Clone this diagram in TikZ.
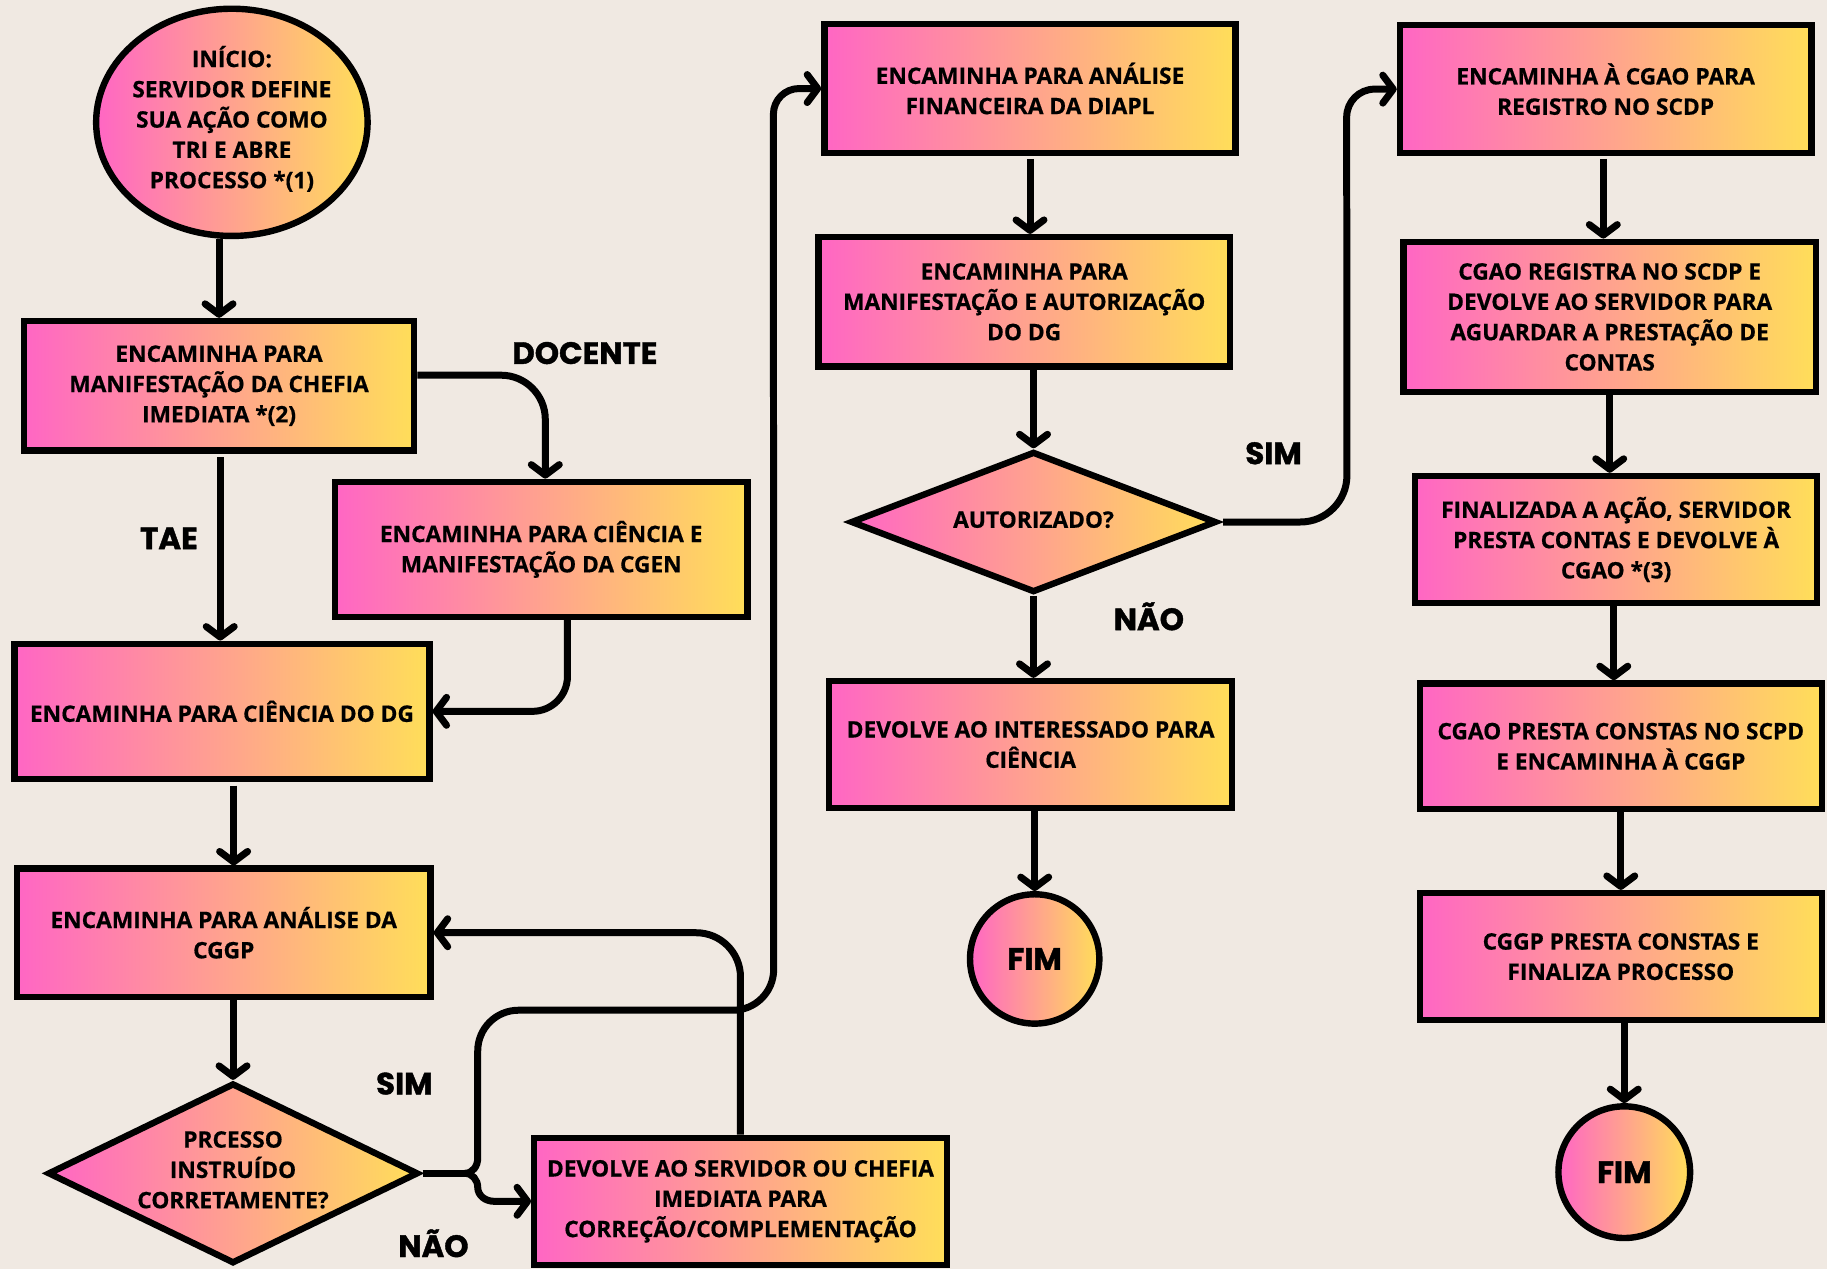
\documentclass[tikz,border=0pt]{standalone}
\usepackage{fontspec}
\setmainfont{Open Sans}[BoldFeatures={FakeBold=0.6}]
\newfontfamily\lblfont{Poppins}[BoldFeatures={FakeBold=1.2}]
\usetikzlibrary{shapes.geometric,arrows.meta,calc}
\definecolor{pk}{RGB}{255,102,196}
\definecolor{yl}{RGB}{255,222,89}
\definecolor{bg}{RGB}{240,233,226}
\tikzset{
  grad/.style={draw=black, line width=5.5pt, left color=pk, right color=yl},
  box/.style={grad, rectangle, inner sep=0pt, align=center,
    font=\bfseries\fontsize{19.5}{26}\selectfont},
  dia/.style={grad, diamond, inner sep=0pt, line join=miter},
  oval/.style={grad, ellipse, inner sep=0pt},
  txt/.style={inner sep=0pt, align=center, font=\bfseries\fontsize{19.5}{26}\selectfont},
  lbl/.style={inner sep=0pt, font=\lblfont\bfseries\fontsize{26.5}{30}\selectfont},
  conn/.style={line width=6pt},
  arr/.style={conn, -{Straight Barb[length=9pt,width=24pt,round]}},
}
\begin{document}
\begin{tikzpicture}[x=1pt,y=-1pt]
\fill[bg] (0,0) rectangle (1568,1089);
\useasboundingbox (0,0) rectangle (1568,1089);

% start
\node[oval, minimum width=233pt, minimum height=195pt] (start) at (199,105) {};
\node[txt] (starttxt) at (199,102) {INÍCIO:\\SERVIDOR DEFINE\\SUA AÇÃO COMO\\TRI E ABRE\\PROCESSO *(1)};

% left column
\node[box, minimum width=335pt, minimum height=111pt] (A) at (188,331) {ENCAMINHA PARA\\MANIFESTAÇÃO DA CHEFIA\\IMEDIATA *(2)};
\node[box, minimum width=354pt, minimum height=116pt] (B) at (464.5,471.5) {ENCAMINHA PARA CIÊNCIA E\\MANIFESTAÇÃO DA CGEN};
\node[box, minimum width=356pt, minimum height=116pt] (C) at (190.5,610.5) {ENCAMINHA PARA CIÊNCIA DO DG};
\node[box, minimum width=355pt, minimum height=110pt] (D) at (192,800.5) {ENCAMINHA PARA ANÁLISE DA\\CGGP};
\node[dia, minimum width=318pt, minimum height=155pt] (d1) at (200,1007) {};
\node[txt] (d1txt) at (200,1004) {PRCESSO\\INSTRUÍDO\\CORRETAMENTE?};
\node[box, minimum width=354pt, minimum height=109pt] (F) at (635.5,1031) {DEVOLVE AO SERVIDOR OU CHEFIA\\IMEDIATA PARA\\CORREÇÃO/COMPLEMENTAÇÃO};

% middle column
\node[box, minimum width=353pt, minimum height=111pt] (E) at (884,76) {ENCAMINHA PARA ANÁLISE\\FINANCEIRA DA DIAPL};
\node[box, minimum width=353pt, minimum height=111pt] (G) at (879,259) {ENCAMINHA PARA\\MANIFESTAÇÃO E AUTORIZAÇÃO\\DO DG};
\node[dia, minimum width=314pt, minimum height=121pt] (d2) at (887,448) {};
\node[txt] (d2txt) at (887,446) {AUTORIZADO?};
\node[box, minimum width=346pt, minimum height=109pt] (I) at (884.5,639) {DEVOLVE AO INTERESSADO PARA\\CIÊNCIA};
\node[oval, minimum width=111pt, minimum height=111pt] (fim1) at (888,823) {};
\node[lbl] (fim1txt) at (888,823) {FIM};

% right column
\node[box, minimum width=353pt, minimum height=110pt] (H) at (1378,76.5) {ENCAMINHA À CGAO PARA\\REGISTRO NO SCDP};
\node[box, minimum width=354pt, minimum height=129pt] (J) at (1381.5,272) {CGAO REGISTRA NO SCDP E\\DEVOLVE AO SERVIDOR PARA\\AGUARDAR A PRESTAÇÃO DE\\CONTAS};
\node[box, minimum width=345pt, minimum height=109pt] (K) at (1387,463) {FINALIZADA A AÇÃO, SERVIDOR\\PRESTA CONTAS E DEVOLVE À\\CGAO *(3)};
\node[box, minimum width=345pt, minimum height=108pt] (L) at (1391,640.5) {CGAO PRESTA CONSTAS NO SCPD\\E ENCAMINHA À CGGP};
\node[box, minimum width=345pt, minimum height=109pt] (M) at (1391,821) {CGGP PRESTA CONSTAS E\\FINALIZA PROCESSO};
\node[oval, minimum width=113pt, minimum height=113pt] (fim2) at (1394,1006) {};
\node[lbl] (fim2txt) at (1394,1006) {FIM};

% labels
\node[lbl] (ldoc) at (502,303) {DOCENTE};
\node[lbl] (ltae) at (145,462) {TAE};
\node[lbl] (lsim1) at (347,930) {SIM};
\node[lbl] (lnao1) at (372,1067) {NÃO};
\node[lbl] (lsim2) at (1093,389) {SIM};
\node[lbl] (lnao2) at (986,529) {NÃO};

% connectors
\draw[arr] (A.north |- start.south) -- (A.north);
\draw[arr, rounded corners=38pt] ([yshift=9pt]A.east) -| ([xshift=3.5pt]B.north);
\draw[arr] ([xshift=1pt,yshift=-3pt]A.south) -- ([xshift=1pt]A.south |- C.north);
\draw[arr, rounded corners=30pt] ([xshift=22.5pt]B.south) |- (C.east);
\draw[arr] ([xshift=10pt,yshift=-3pt]C.south) -- ([xshift=10pt]C.south |- D.north);
\draw[arr] (d1.north |- D.south) -- (d1.north);

\coordinate (fork) at (399,1007);
\draw[conn] ([xshift=1pt]d1.east) -- (fork);
\draw[arr] (fork) to[out=0,in=90] (410,1019) to[out=-90,in=180] (424,1031) -- (F.west);
\draw[arr] (fork) to[out=0,in=-90] (410,994)
  [rounded corners=35pt] -- (410,867) -- (664,867) [rounded corners=22pt] -- ([xshift=-41pt]E.west) -- (E.west);
\draw[arr, rounded corners=38pt] (F.north) |- (D.east);

\draw[arr] ([yshift=-2pt]E.south) -- (E.south |- G.north);
\draw[arr] (d2.north |- G.south) -- (d2.north);
\draw[arr, rounded corners=40pt] ([xshift=3pt]d2.east) -- (1156,448) [rounded corners=24pt] -- ([xshift=-43pt]H.west) -- (H.west);
\draw[arr] (d2.south) -- (d2.south |- I.north);
\draw[arr] (fim1.north |- I.south) -- (fim1.north);

\draw[arr] ([xshift=-2pt,yshift=-2pt]H.south) -- ([xshift=-2pt]H.south |- J.north);
\draw[arr] (J.south) -- (J.south |- K.north);
\draw[arr] ([xshift=-2pt]K.south) -- ([xshift=-2pt]K.south |- L.north);
\draw[arr] (L.south) -- (L.south |- M.north);
\draw[arr] (fim2.north |- M.south) -- (fim2.north);
\end{tikzpicture}
\end{document}
